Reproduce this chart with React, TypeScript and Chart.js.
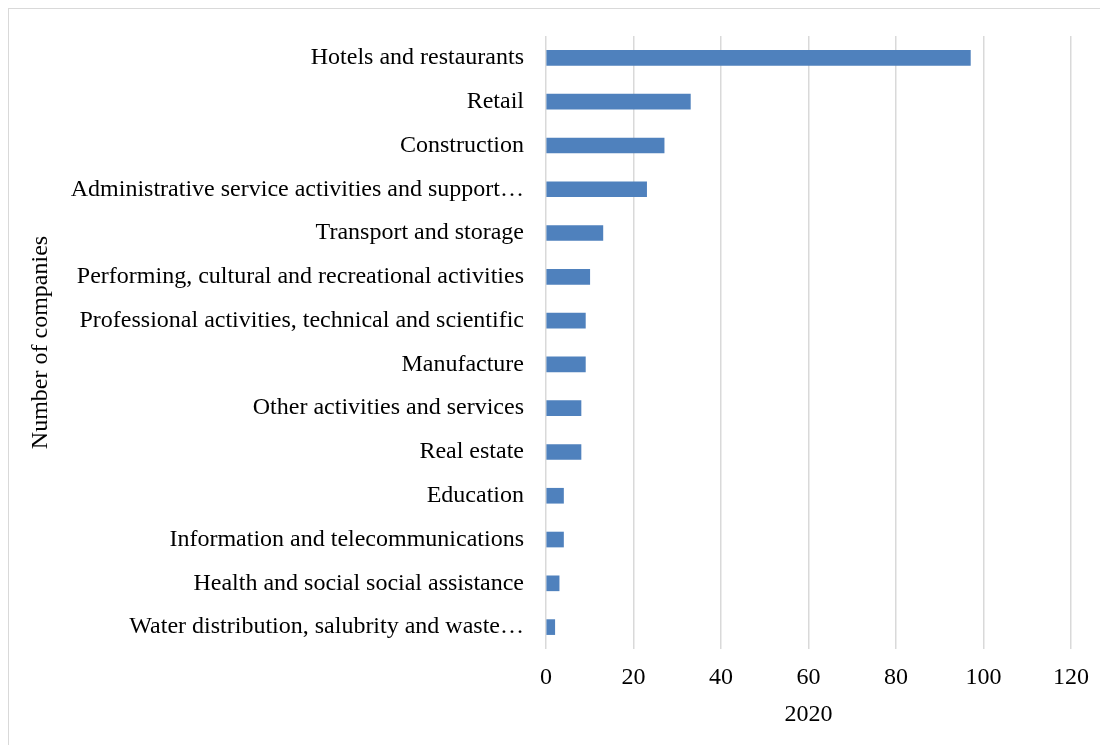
import React, { useEffect, useRef } from "react";
import { Chart, registerables } from "chart.js";

Chart.register(...registerables);

const categories = [
  "Hotels and restaurants",
  "Retail",
  "Construction",
  "Administrative service activities and support…",
  "Transport and storage",
  "Performing, cultural and recreational activities",
  "Professional activities, technical and scientific",
  "Manufacture",
  "Other activities and services",
  "Real estate",
  "Education",
  "Information and telecommunications",
  "Health and social social assistance",
  "Water distribution, salubrity and waste…",
];

const companies2020 = [97, 33, 27, 23, 13, 10, 9, 9, 8, 8, 4, 4, 3, 2];

const xAxisTitle = "2020";
const yAxisTitle = "Number of companies";

export default function App() {
  const canvasRef = useRef<HTMLCanvasElement | null>(null);

  useEffect(() => {
    document.documentElement.style.overflow = "hidden";
    if (!canvasRef.current) return;
    const font = { family: "'Liberation Serif', 'Times New Roman', serif", size: 24 };
    const chart = new Chart(canvasRef.current, {
      type: "bar",
      data: {
        labels: categories,
        datasets: [
          {
            label: xAxisTitle,
            data: companies2020,
            backgroundColor: "#4F81BD",
            borderWidth: 0,
            barThickness: 15,
          },
        ],
      },
      options: {
        indexAxis: "y",
        animation: false,
        responsive: false,
        maintainAspectRatio: false,
        layout: { padding: { top: 27, right: 37, left: 0, bottom: 0 } },
        plugins: {
          legend: { display: false },
          tooltip: { enabled: false },
        },
        scales: {
          x: {
            type: "linear",
            min: 0,
            max: 120,
            ticks: { stepSize: 20, color: "#000", font, padding: 14 },
            grid: { color: "#d9d9d9", lineWidth: 1.5, drawTicks: false },
            border: { display: false },
            title: {
              display: true,
              text: xAxisTitle,
              color: "#000",
              font,
              padding: { top: 0, bottom: 16 },
            },
            afterFit: (scale: any) => {
              scale.height = 96;
            },
          },
          y: {
            type: "category",
            ticks: { color: "#000", font, padding: 22, autoSkip: false },
            grid: { display: false, drawTicks: false },
            border: { display: false },
            title: {
              display: true,
              text: yAxisTitle,
              color: "#000",
              font,
              padding: { top: 17, bottom: 0 },
            },
            afterFit: (scale: any) => {
              scale.width = 537;
              scale.paddingTop = 0;
              scale.paddingBottom = 0;
            },
          },
        },
      },
    });
    return () => chart.destroy();
  }, []);

  return (
    <div
      style={{
        width: 1100,
        height: 737,
        boxSizing: "border-box",
        borderLeft: "1px solid #d9d9d9",
        borderTop: "1px solid #d9d9d9",
        overflow: "hidden",
      }}
    >
      <canvas ref={canvasRef} width={1099} height={736} style={{ display: "block" }} />
    </div>
  );
}
